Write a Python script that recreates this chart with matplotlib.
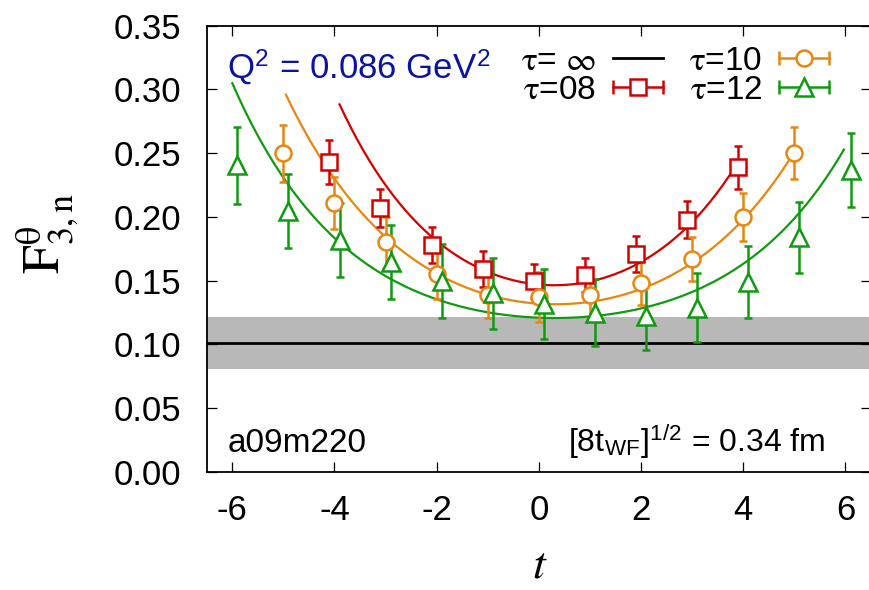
import numpy as np
import matplotlib
matplotlib.use('Agg')
import matplotlib.pyplot as plt
from matplotlib.lines import Line2D
from matplotlib.legend_handler import HandlerLine2D

plt.rcParams['font.family'] = ['Liberation Sans', 'DejaVu Sans']
plt.rcParams['mathtext.fontset'] = 'stix'
plt.rcParams['axes.unicode_minus'] = False

# tau = infinity estimate and its error band
f_inf = 0.101
e_inf = 0.0205

# tau=08 data
t08 = [-4, -3, -2, -1, 0, 1, 2, 3, 4]
f08 = [0.243, 0.207, 0.178, 0.159, 0.150, 0.1545, 0.171, 0.198, 0.239]
e08 = [0.017, 0.0152, 0.0144, 0.0141, 0.0135, 0.0135, 0.0141, 0.0147, 0.0167]

# tau=10 data
t10 = [-5, -4, -3, -2, -1, 0, 1, 2, 3, 4, 5]
f10 = [0.250, 0.211, 0.180, 0.155, 0.139, 0.137, 0.139, 0.148, 0.167, 0.200, 0.250]
e10 = [0.0225, 0.0203, 0.020, 0.019, 0.0186, 0.0196, 0.019, 0.0174, 0.0173, 0.0187, 0.0205]

# tau=12 data
t12 = [-6, -5, -4, -3, -2, -1, 0, 1, 2, 3, 4, 5, 6]
f12 = [0.2405, 0.205, 0.182, 0.165, 0.1495, 0.140, 0.132, 0.125, 0.122, 0.129, 0.149, 0.184, 0.237]
e12 = [0.030, 0.029, 0.029, 0.029, 0.029, 0.028, 0.0275, 0.026, 0.026, 0.027, 0.028, 0.028, 0.029]

# fit curves: c + a*cosh(m t) + b*sinh(m t), over [t_lo, t_hi]
fit08 = dict(c=0.087, a=0.060, b=-0.00805, m=0.45, t_lo=-3.9, t_hi=3.87)
fit10 = dict(c=0.080, a=0.052, b=-0.00675, m=0.40, t_lo=-4.95, t_hi=4.88)
fit12 = dict(c=0.0947, a=0.0263, b=-0.00359, m=0.44, t_lo=-6.0, t_hi=5.97)

series = [
    (r'$\mathrm{\tau}$=08', t08, f08, e08, fit08, '#d40000', 's', 12.0, -0.1),
    (r'$\mathrm{\tau}$=10', t10, f10, e10, fit10, '#e8870f', 'o', 11.5, 0.0),
    (r'$\mathrm{\tau}$=12', t12, f12, e12, fit12, '#109a10', '^', 12.5, 0.1),
]

fig = plt.figure(figsize=(8.69, 5.90), dpi=100)
ax = fig.add_axes([206.7 / 869, 118 / 590, 664.3 / 869, 446.3 / 590])

ax.axhspan(f_inf - e_inf, f_inf + e_inf, color='#b8b8b8', lw=0, zorder=0)
ax.axhline(f_inf, color='black', lw=2.0, zorder=1)

handles = [Line2D([], [], color='black', lw=2.0)]
labels = [r'$\mathrm{\tau}$= $\infty$']
hmap = {}
for label, t, f, e, fit, col, mk, ms, off in series:
    tt = np.linspace(fit['t_lo'], fit['t_hi'], 200)
    yy = fit['c'] + fit['a'] * np.cosh(fit['m'] * tt) + fit['b'] * np.sinh(fit['m'] * tt)
    ax.plot(tt, yy, color=col, lw=1.6, zorder=2)
    ax.errorbar(np.array(t) + off, f, yerr=e, fmt=mk, color=col, mfc='white', mec=col,
                ms=ms, mew=1.8, elinewidth=1.8, capsize=3.2, capthick=1.8, zorder=3)
    caps = Line2D([], [], color=col, lw=1.8, marker='|', ms=10, mew=1.8)
    dot = Line2D([], [], ls='none', marker=mk, color=col, mfc='white', mec=col, ms=ms, mew=1.8)
    hmap[caps] = HandlerLine2D(numpoints=2, marker_pad=0)
    handles.append((caps, dot))
    labels.append(label)

leg = ax.legend(handles, labels, ncol=2, markerfirst=False, frameon=False,
                loc='upper right', bbox_to_anchor=(0.937, 0.955), fontsize=24,
                handlelength=1.5, handletextpad=0.5, columnspacing=0.8,
                labelspacing=-0.05, borderpad=0, borderaxespad=0, handler_map=hmap)

ax.set_xlim(-6.5, 6.5)
ax.set_ylim(0.0, 0.35)
ax.set_xticks(np.arange(-6, 7, 2))
ax.set_yticks(np.arange(0, 0.351, 0.05))
ax.set_yticklabels(['%.2f' % v for v in np.arange(0, 0.351, 0.05)])
ax.tick_params(direction='in', top=True, right=True, length=7, width=0.9,
               labelsize=25, colors='black')
ax.tick_params(axis='y', pad=18)
ax.tick_params(axis='x', pad=16)
for s in ax.spines.values():
    s.set_linewidth(1.3)

ax.text(0.031, 0.882, r'Q$^{\mathregular{2}}$ = 0.086 GeV$^{\mathregular{2}}$',
        transform=ax.transAxes, color='#0a14a0', fontsize=25, va='baseline', ha='left')
ax.text(0.031, 0.0455, 'a09m220', transform=ax.transAxes, fontsize=24,
        va='baseline', ha='left')
ax.text(0.9308, 0.0455, r'[8t$_{\mathregular{WF}}$]$^{\mathregular{1/2}}$ = 0.34 fm',
        transform=ax.transAxes, fontsize=23, va='baseline', ha='right')

fig.text(48 / 869, 1 - 234 / 590, r'$\mathrm{F}^{\mathrm{\theta}}_{3,\mathrm{n}}$', rotation=90,
         fontsize=37, ha='center', va='center')
fig.text(540 / 869, 2 / 590, r'$t$', fontsize=33, ha='center', va='bottom')

fig.savefig('out.png', dpi=100)
